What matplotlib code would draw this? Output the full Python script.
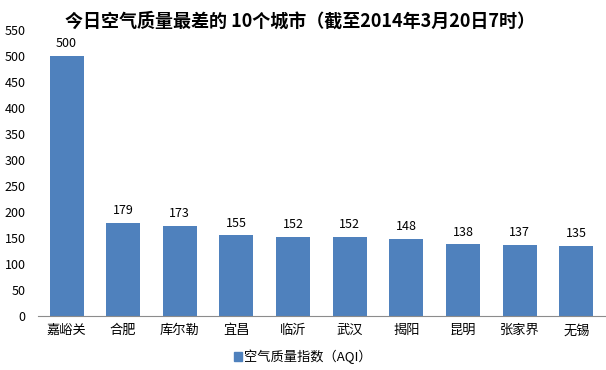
"""
Bar chart: worst air quality cities (AQI), 2014-03-20 07:00.
Saves out.png.
"""

import matplotlib.pyplot as plt
from matplotlib.patches import Patch


CITIES = ["嘉峪关", "合肥", "库尔勒", "宜昌", "临沂", "武汉", "揭阳", "昆明", "张家界", "无锡"]
AQI = [500, 179, 173, 155, 152, 152, 148, 138, 137, 135]
Y_TICKS = list(range(0, 551, 50))

TITLE = "今日空气质量最差的 10个城市（截至2014年3月20日7时）"
LEGEND_LABEL = "空气质量指数（AQI）"

BAR_COLOR = "#4F81BD"

plt.rcParams["font.family"] = ["Noto Sans CJK SC", "DejaVu Sans"]


def main() -> None:
    fig = plt.figure(figsize=(6.06, 3.70), dpi=100)
    ax = fig.add_axes([0.063, 0.146, 0.935, 0.773])

    x = range(len(CITIES))
    bars = ax.bar(x, AQI, width=0.6, color=BAR_COLOR)

    for rect, value in zip(bars, AQI):
        ax.annotate(
            str(value),
            (rect.get_x() + rect.get_width() / 2, value),
            xytext=(0, 4),
            textcoords="offset points",
            ha="center",
            va="bottom",
            fontsize=9,
        )

    ax.set_xlim(-0.5, len(CITIES) - 0.5)
    ax.set_ylim(0, 550)
    ax.set_yticks(Y_TICKS)
    ax.set_xticks(list(x))
    ax.set_xticklabels(CITIES, fontsize=9.5)
    ax.tick_params(axis="y", labelsize=9, length=0, pad=9)
    ax.tick_params(axis="x", length=0, pad=6)

    for side in ["top", "right", "left"]:
        ax.spines[side].set_visible(False)
    ax.spines["bottom"].set_color("#8c8c8c")

    fig.text(0.495, 0.942, TITLE, ha="center", va="center",
             fontsize=13, fontweight="bold")

    fig.legend(
        handles=[Patch(color=BAR_COLOR, label=LEGEND_LABEL)],
        loc="center",
        bbox_to_anchor=(0.5, 0.035),
        frameon=False,
        fontsize=9.5,
        handlelength=0.6,
        handleheight=0.6,
        handletextpad=0.2,
    )

    fig.savefig("out.png", dpi=100)
    plt.close(fig)


if __name__ == "__main__":
    main()
